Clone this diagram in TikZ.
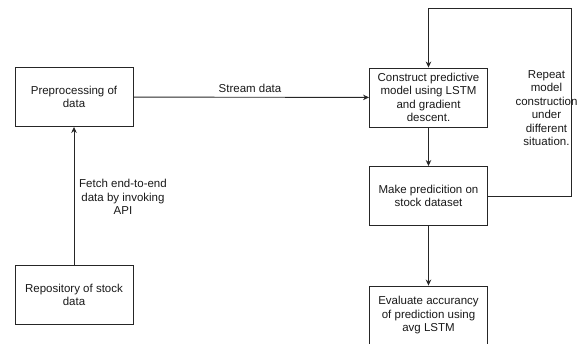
\documentclass[tikz,border=0pt]{standalone}
\usepackage{fontspec}
\setmainfont{Liberation Sans}
\usetikzlibrary{arrows.meta}
\begin{document}
\begin{tikzpicture}[x=1pt,y=-1pt,
  box/.style={draw=black!85,line width=0.9pt,minimum width=118pt,minimum height=59pt,inner sep=0pt,align=center,font=\fontsize{11.5}{13.5}\selectfont,text=black!90},
  lbl/.style={align=center,font=\fontsize{11.5}{13.5}\selectfont,text=black!90,inner sep=0pt},
  conn/.style={draw=black!85,line width=0.9pt,-{Stealth[length=6pt,width=5.5pt]}}]
\useasboundingbox (0,0) rectangle (581,343);
\node[box] (pre) at (74,97) {Preprocessing of\\data};
\node[box] (repo) at (74,295) {Repository of stock\\data};
\node[box] (con) at (428.5,97.5) {Construct predictive\\model using LSTM\\and gradient\\descent.};
\node[box] (make) at (428.5,196) {Make predicition on\\stock dataset};
\node[box] (eval) at (428.5,315.5) {Evaluate accurancy\\of prediction using\\avg LSTM};
\coordinate (c1) at (571,196);
\coordinate (c2) at (571,8);
\coordinate (c3) at (428.5,8);
\draw[conn] (repo) -- (pre);
\draw[conn] (pre) -- (con);
\draw[conn] (con) -- (make);
\draw[conn] (make) -- (eval);
\draw[conn] (make.east) -- (c1) -- (c2) -- (c3) -- (con.north);
\node[lbl] (l1) at (250,88) {Stream data};
\node[lbl] (l2) at (123,197) {Fetch end-to-end\\data by invoking\\API};
\node[lbl] (l3) at (546.5,108) {Repeat\\model\\construction\\under\\different\\situation.};
\end{tikzpicture}
\end{document}
